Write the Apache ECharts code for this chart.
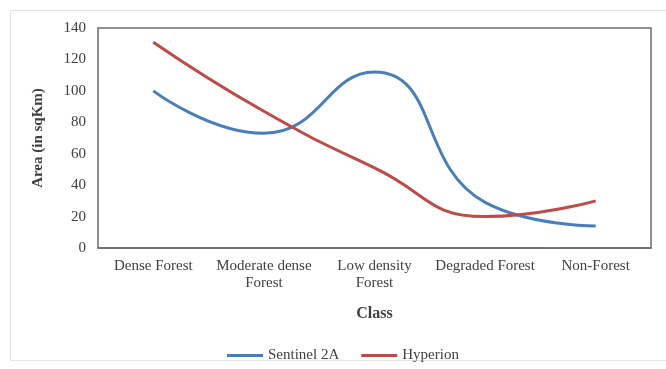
<!DOCTYPE html>
<html>
<head>
<meta charset="utf-8">
<script src="https://cdn.jsdelivr.net/npm/echarts@6/dist/echarts.min.js"></script>
<style>
  html, body { margin: 0; padding: 0; background: #fff; }
  #chart { width: 666px; height: 369px; }
</style>
</head>
<body>
<div id="chart"></div>
<script>
// 类别
var classes = ['Dense Forest', 'Moderate dense\nForest', 'Low density\nForest', 'Degraded Forest', 'Non-Forest'];
// 两条线的数据
var sentinel = [100, 73, 112, 29, 14];
var hyperion = [131, 87, 51, 20, 30];
var yTicks = [0, 140, 20]; // min, max, interval

var serif = '"Liberation Serif", "DejaVu Serif", serif';
var chart = echarts.init(document.getElementById('chart'));

var option = {
  backgroundColor: '#fff',
  animation: false,
  textStyle: { fontFamily: serif },
  // 外框
  graphic: [{
    type: 'rect',
    shape: { x: 10.5, y: 10.5, width: 670, height: 350 },
    style: { fill: 'none', stroke: '#e4e4e4', lineWidth: 1 },
    silent: true
  }],
  grid: {
    left: 98, right: 15, top: 28, bottom: 121,
    show: true,
    borderColor: '#6b6b6b',
    borderWidth: 1.5
  },
  legend: {
    left: 222, top: 343,
    itemWidth: 36, itemHeight: 3, itemGap: 22,
    icon: 'rect',
    textStyle: { fontFamily: serif, fontSize: 15, color: '#404040' },
    data: ['Sentinel 2A', 'Hyperion']
  },
  xAxis: {
    type: 'category',
    data: classes,
    name: 'Class',
    nameLocation: 'middle',
    nameGap: 58,
    nameTextStyle: { fontFamily: serif, fontSize: 16, fontWeight: 'bold', color: '#404040' },
    axisLine: { lineStyle: { color: '#6b6b6b', width: 1.5 } },
    axisTick: { show: false },
    axisLabel: { fontFamily: serif, fontSize: 15, color: '#404040', margin: 10, lineHeight: 17, interval: 0 }
  },
  yAxis: {
    type: 'value',
    min: yTicks[0], max: yTicks[1], interval: yTicks[2],
    name: 'Area (in sqKm)',
    nameLocation: 'middle',
    nameGap: 52,
    nameTextStyle: { fontFamily: serif, fontSize: 15, fontWeight: 'bold', color: '#404040' },
    axisLine: { show: false },
    axisTick: { show: false },
    splitLine: { show: false },
    axisLabel: { fontFamily: serif, fontSize: 15, color: '#404040', margin: 12 }
  },
  series: [{
    name: 'Sentinel 2A',
    type: 'line',
    data: sentinel,
    smooth: 0.5,
    showSymbol: false,
    symbol: 'none',
    itemStyle: { color: '#4a7ebb' },
    lineStyle: { color: '#4a7ebb', width: 3 }
  }, {
    name: 'Hyperion',
    type: 'line',
    data: hyperion,
    smooth: 0.5,
    showSymbol: false,
    symbol: 'none',
    itemStyle: { color: '#be4b48' },
    lineStyle: { color: '#be4b48', width: 3 }
  }]
};

chart.setOption(option);
</script>
</body>
</html>
